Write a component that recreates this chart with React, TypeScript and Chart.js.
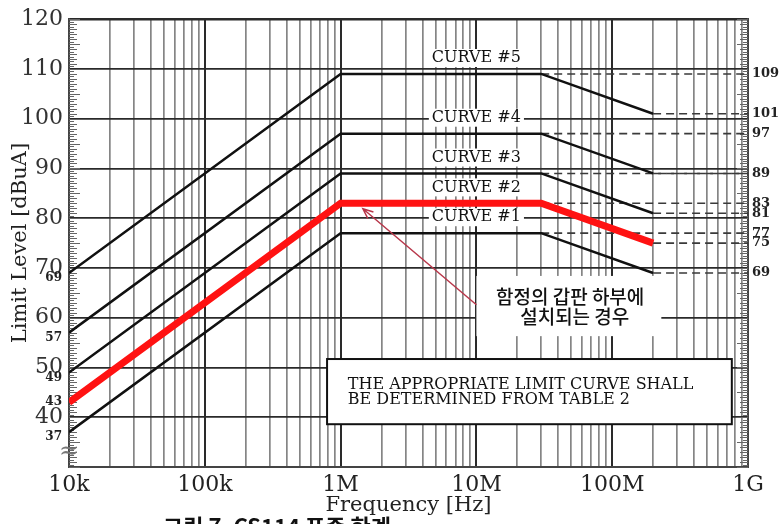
import React, { useEffect, useRef } from 'react';
import { Chart, registerables } from 'chart.js';

Chart.register(...registerables);

// ---------------- data ----------------
const breakFreqs = [1e4, 1e6, 3e7, 2e8];
const curveNames = ['CURVE #1', 'CURVE #2', 'CURVE #3', 'CURVE #4', 'CURVE #5'];
const curve1 = [37, 77, 77, 69];
const curve2 = [43, 83, 83, 75];
const curve3 = [49, 89, 89, 81];
const curve4 = [57, 97, 97, 89];
const curve5 = [69, 109, 109, 101];
const curves = [curve1, curve2, curve3, curve4, curve5];
const highlightIndex = 1;

const xDecades = [1e4, 1e5, 1e6, 1e7, 1e8, 1e9];
const xTickLabels = ['10k', '100k', '1M', '10M', '100M', '1G'];
const yTicks = [30, 40, 50, 60, 70, 80, 90, 100, 110, 120];
const leftLevelLabels = [69, 57, 49, 43, 37];
const rightLevelLabels = [109, 101, 97, 89, 83, 81, 77, 75, 69];
const xMin = 1e4;
const xMax = 1e9;
const yMin = 30;
const yMax = 120;

const xTitle = 'Frequency [Hz]';
const yTitle = 'Limit Level [dBuA]';
const noteKo = ['함정의 갑판 하부에', '설치되는 경우'];
const noteBox = ['THE APPROPRIATE LIMIT CURVE SHALL', 'BE DETERMINED FROM TABLE 2'];
const caption = '그림 7. CS114 표준 한계';

const SERIF = '"DejaVu Serif", "Liberation Serif", serif';

const isDecade = (v: number) => {
  const l = Math.log10(v);
  return Math.abs(l - Math.round(l)) < 1e-9;
};

const xGridTicks: number[] = [];
for (let i = 0; i < xDecades.length - 1; i++) {
  for (let m = 1; m <= 9; m++) xGridTicks.push(m * xDecades[i]);
}
xGridTicks.push(xDecades[xDecades.length - 1]);

// ---------------- decorations plugin ----------------
const decor = {
  id: 'decor',
  beforeDatasetsDraw(chart: any) {
    const { ctx, chartArea: ca, scales } = chart;
    const xs = scales.x;
    const ys = scales.y;
    const X = (f: number) => xs.getPixelForValue(f);
    const Y = (v: number) => ys.getPixelForValue(v);
    ctx.save();
    // ruler ticks on left and right edges
    ctx.strokeStyle = '#666666';
    ctx.lineWidth = 1;
    for (let k = 0; k <= (yMax - yMin) * 2; k++) {
      const v = yMin + k / 2;
      const y = Math.round(Y(v)) + 0.5;
      const len = v % 5 === 0 ? 11 : v % 1 === 0 ? 8 : 5;
      ctx.beginPath();
      ctx.moveTo(ca.left, y);
      ctx.lineTo(ca.left + len, y);
      ctx.moveTo(ca.right, y);
      ctx.lineTo(ca.right - len, y);
      ctx.stroke();
    }
    // white backgrounds
    ctx.fillStyle = '#ffffff';
    ctx.font = `16px ${SERIF}`;
    curves.forEach((c, i) => {
      const w = ctx.measureText(curveNames[i]).width;
      const cx = X(1e7);
      const cy = Y(c[1] + 3.2);
      ctx.fillRect(cx - w / 2 - 3, cy - 9, w + 6, 18);
    });
    // korean note background
    const kx0 = X(1e7), kx1 = X(2.3e8);
    const ky0 = Y(68.4), ky1 = Y(56.3);
    ctx.fillRect(kx0, ky0, kx1 - kx0, ky1 - ky0);
    // note box background
    const bx0 = X(7.95e5), bx1 = X(7.6e8);
    const by0 = Y(51.7), by1 = Y(38.6);
    ctx.fillRect(bx0, by0, bx1 - bx0, by1 - by0);
    ctx.restore();
  },
  afterDatasetsDraw(chart: any) {
    const { ctx, chartArea: ca, scales } = chart;
    const xs = scales.x;
    const ys = scales.y;
    const X = (f: number) => xs.getPixelForValue(f);
    const Y = (v: number) => ys.getPixelForValue(v);
    ctx.save();
    // curve labels
    ctx.fillStyle = '#111';
    ctx.font = `16px ${SERIF}`;
    ctx.textAlign = 'center';
    ctx.textBaseline = 'middle';
    curves.forEach((c, i) => {
      ctx.fillText(curveNames[i], X(1e7), Y(c[1] + 3.2));
    });
    // korean note
    ctx.font = '500 19px "Noto Sans CJK KR", sans-serif';
    ctx.fillStyle = '#111';
    ctx.fillText(noteKo[0], X(4.9e7), Y(64.2));
    ctx.fillText(noteKo[1], X(5.3e7), Y(60.2));
    // arrow
    const tx = X(1.46e6), ty = Y(81.9);
    const sx = X(1e7), sy = Y(62.6);
    ctx.strokeStyle = '#b8374a';
    ctx.lineWidth = 1.5;
    ctx.beginPath();
    ctx.moveTo(sx, sy);
    ctx.lineTo(tx, ty);
    const ang = Math.atan2(sy - ty, sx - tx);
    const ah = 11;
    ctx.moveTo(tx + ah * Math.cos(ang - 0.4), ty + ah * Math.sin(ang - 0.4));
    ctx.lineTo(tx, ty);
    ctx.lineTo(tx + ah * Math.cos(ang + 0.4), ty + ah * Math.sin(ang + 0.4));
    ctx.stroke();
    // note box
    const bx0 = X(7.95e5), bx1 = X(7.6e8);
    const by0 = Y(51.7), by1 = Y(38.6);
    ctx.strokeStyle = '#111';
    ctx.lineWidth = 2;
    ctx.strokeRect(bx0, by0, bx1 - bx0, by1 - by0);
    ctx.font = `16px ${SERIF}`;
    ctx.textAlign = 'left';
    ctx.fillStyle = '#111';
    ctx.fillText(noteBox[0], X(1.13e6), Y(46.6));
    ctx.fillText(noteBox[1], X(1.13e6), Y(43.4));
    // left level labels (nudged below the main tick labels, except one that sits above)
    ctx.font = `bold 12px ${SERIF}`;
    ctx.textAlign = 'right';
    ctx.fillStyle = '#222';
    leftLevelLabels.forEach((v) => {
      const nudge = v % 10 <= 4 ? 0 : 5;
      ctx.fillText(String(v), ca.left - 7, Y(v) + nudge);
    });
    // axis break symbol
    ctx.font = `24px ${SERIF}`;
    ctx.textAlign = 'center';
    ctx.fillStyle = '#777';
    ctx.fillText('≈', ca.left, Y(33));
    // caption (partially cut at the bottom of the page)
    ctx.font = 'bold 22px "Noto Sans CJK KR", sans-serif';
    ctx.textAlign = 'left';
    ctx.fillStyle = '#111';
    ctx.fillText(caption, 163, chart.height + 3);
    ctx.restore();
  },
};

export default function App() {
  const ref = useRef<HTMLCanvasElement | null>(null);

  useEffect(() => {
    const canvas = ref.current;
    if (!canvas) return;

    const datasets: any[] = [];
    curves.forEach((c, i) => {
      const hl = i === highlightIndex;
      datasets.push({
        label: curveNames[i],
        data: breakFreqs.map((f, j) => ({ x: f, y: c[j] })),
        borderColor: hl ? '#ff1212' : '#111111',
        borderWidth: hl ? 7 : 2.5,
        pointRadius: 0,
        fill: false,
        tension: 0,
        order: hl ? 0 : 2,
      });
    });
    curves.forEach((c) => {
      datasets.push({
        data: [
          { x: breakFreqs[2], y: c[2] },
          { x: xMax, y: c[2] },
        ],
        borderColor: '#3a3a3a',
        borderWidth: 1.6,
        borderDash: [8, 5],
        pointRadius: 0,
        order: 5,
      });
      datasets.push({
        data: [
          { x: breakFreqs[3], y: c[3] },
          { x: xMax, y: c[3] },
        ],
        borderColor: '#3a3a3a',
        borderWidth: 1.6,
        borderDash: [8, 5],
        pointRadius: 0,
        order: 5,
      });
    });

    const chart = new Chart(canvas, {
      type: 'line',
      data: { datasets },
      options: {
        animation: false,
        responsive: false,
        maintainAspectRatio: false,
        layout: { padding: { top: 14, bottom: 0, left: 0, right: 0 } },
        plugins: {
          legend: { display: false },
          tooltip: { enabled: false },
        },
        scales: {
          x: {
            type: 'logarithmic',
            min: xMin,
            max: xMax,
            afterBuildTicks: (axis: any) => {
              axis.ticks = xGridTicks.map((v) => ({ value: v }));
            },
            afterFit: (axis: any) => {
              axis.height = 57;
            },
            ticks: {
              autoSkip: false,
              maxRotation: 0,
              padding: 5,
              color: '#222',
              font: { family: SERIF, size: 22 },
              callback: (value: any) => {
                const v = Number(value);
                const idx = xDecades.findIndex((d) => Math.abs(Math.log10(d) - Math.log10(v)) < 1e-9);
                return idx >= 0 ? xTickLabels[idx] : '';
              },
            },
            grid: {
              drawTicks: false,
              color: (ctx: any) => (isDecade(ctx.tick.value) ? '#2a2a2a' : '#858585'),
              lineWidth: (ctx: any) => (isDecade(ctx.tick.value) ? 2 : 1.7),
            },
            border: { display: true, color: '#444', width: 2 },
            title: {
              display: true,
              text: xTitle,
              color: '#222',
              font: { family: SERIF, size: 21 },
              padding: { top: 0, bottom: 6 },
            },
          },
          y: {
            type: 'linear',
            position: 'left',
            min: yMin,
            max: yMax,
            afterBuildTicks: (axis: any) => {
              axis.ticks = yTicks.map((v) => ({ value: v }));
            },
            afterFit: (axis: any) => {
              axis.width = 69;
            },
            ticks: {
              autoSkip: false,
              padding: 6,
              color: '#333',
              font: { family: SERIF, size: 22 },
              callback: (value: any) => (Number(value) === yMin ? '' : String(value)),
            },
            grid: {
              drawTicks: false,
              color: (ctx: any) => (ctx.tick.value === yMin ? 'rgba(0,0,0,0)' : '#2a2a2a'),
              lineWidth: (ctx: any) => (ctx.tick.value === yMax ? 2.5 : 1.8),
            },
            border: { display: true, color: '#444', width: 2 },
            title: {
              display: true,
              text: yTitle,
              color: '#222',
              font: { family: SERIF, size: 21 },
              padding: { top: 8, bottom: 0 },
            },
          },
          y2: {
            type: 'linear',
            position: 'right',
            min: yMin,
            max: yMax,
            afterBuildTicks: (axis: any) => {
              axis.ticks = rightLevelLabels.map((v) => ({ value: v }));
            },
            afterFit: (axis: any) => {
              axis.width = 33;
            },
            ticks: {
              autoSkip: false,
              padding: 4,
              color: '#222',
              font: { family: SERIF, size: 13, weight: 'bold' },
              callback: (value: any) => String(value),
            },
            grid: { display: false, drawTicks: false },
            border: { display: true, color: '#444', width: 2 },
          },
        },
      } as any,
      plugins: [decor],
    });

    return () => {
      chart.destroy();
    };
  }, []);

  return (
    <div style={{ position: 'absolute', left: 0, top: 0, width: 781, height: 524, background: '#fff' }}>
      <canvas ref={ref} width={781} height={524} style={{ display: 'block' }} />
    </div>
  );
}
